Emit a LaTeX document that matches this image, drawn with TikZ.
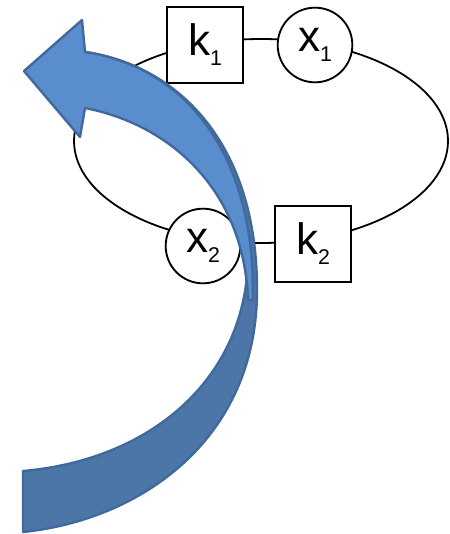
\documentclass[tikz,border=0pt]{standalone}
\usepackage{fontspec}
\setmainfont{Liberation Sans}
\definecolor{arrlight}{RGB}{90,141,206}
\definecolor{arrdark}{RGB}{76,118,168}
\definecolor{arredge}{RGB}{66,105,155}
\newcommand{\lab}[2]{{\fontsize{33}{33}\selectfont #1}\raisebox{-7.5pt}{\fontsize{16}{16}\selectfont #2}}
\begin{document}
\begin{tikzpicture}[x=0.75pt,y=-0.75pt,
  boxnode/.style={draw=black,line width=1.4pt,fill=white,minimum width=57pt,minimum height=57pt,inner sep=0pt,rectangle},
  circnode/.style={draw=black,line width=1.4pt,fill=white,minimum size=56pt,inner sep=0pt,circle},
  loop/.style={draw=black,line width=1.35pt},
  arrowpart/.style={draw=arredge,line width=1.8pt,line join=round}]
\useasboundingbox (0,0) rectangle (449,534);
\draw[loop] (261,141) ellipse [x radius=140.25pt, y radius=76.5pt];
\node[boxnode] (k1) at (205,45) {\lab{k}{1}};
\node[circnode] (x1) at (315,45) {\lab{x}{1}};
\node[circnode] (x2) at (203,246) {\lab{x}{2}};
\node[boxnode] (k2) at (313,244) {\lab{k}{2}};
% back part of the curved arrow (tail side)
\path[arrowpart,fill=arrdark] (23,471) .. controls (150,460) and (245,380) .. (248,260)
  -- (215,150) -- (85,52) .. controls (175,65) and (257,140) .. (257,290)
  .. controls (257,440) and (140,520) .. (23,532) -- cycle;
% front part with head
\path[arrowpart,fill=arrlight] (253,300) -- (253,292) .. controls (253,141) and (175,65) .. (85,52)
  -- (82,20) -- (24,71) -- (80,137) -- (85,108)
  .. controls (168,124) and (244,188) .. (248,300) -- cycle;
\end{tikzpicture}
\end{document}
